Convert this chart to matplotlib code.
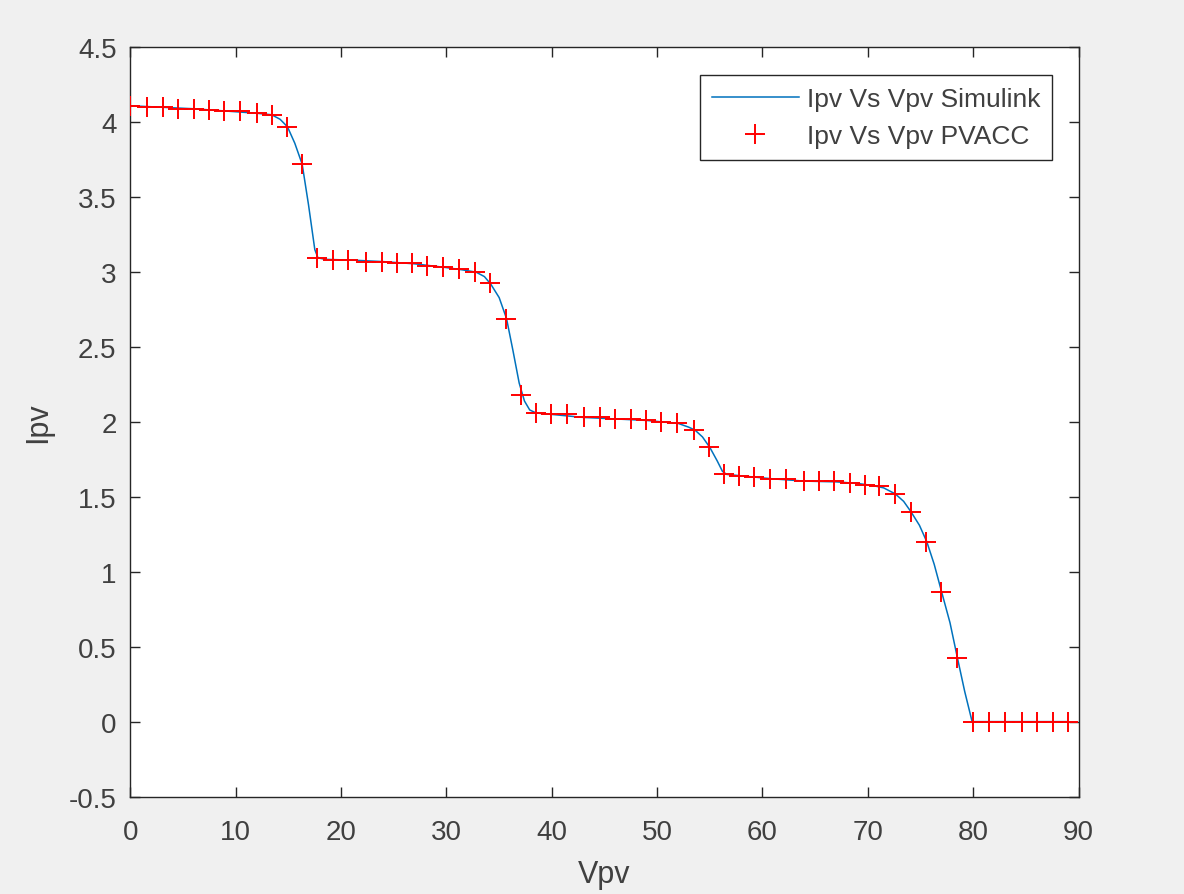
import matplotlib
matplotlib.use("Agg")
import matplotlib.pyplot as plt

# Simulink curve
sim_v = [0, 3, 6, 9, 12, 13.4, 14.2, 14.9, 15.6, 16.3, 16.9, 17.5, 17.8, 18.5, 21, 24, 27, 30,
         31.5, 32.8, 33.6, 34.2, 35.0, 35.7, 36.3, 36.9, 37.4, 37.9, 38.5, 40, 43, 46, 49, 50.5,
         52, 53, 53.6, 54.3, 55.0, 55.7, 56.2, 56.6, 58, 61, 64, 67, 69, 70.5, 71.5, 72.6, 73.4,
         74.1, 74.9, 75.6, 76.3, 77.0, 77.8, 78.5, 79.2, 79.9, 89]
sim_i = [4.11, 4.10, 4.09, 4.075, 4.06, 4.05, 4.02, 3.97, 3.86, 3.72, 3.45, 3.15, 3.095, 3.085,
         3.08, 3.07, 3.055, 3.03, 3.015, 3.00, 2.97, 2.92, 2.83, 2.69, 2.48, 2.26, 2.14, 2.08,
         2.06, 2.05, 2.03, 2.02, 2.01, 2.00, 1.99, 1.965, 1.945, 1.90, 1.83, 1.74, 1.67, 1.65,
         1.64, 1.62, 1.605, 1.60, 1.59, 1.575, 1.56, 1.52, 1.47, 1.40, 1.31, 1.20, 1.05, 0.867,
         0.66, 0.427, 0.20, 0.0, 0.0]

# PVACC points
pv_v = [0, 1.56, 3.05, 4.53, 5.99, 7.41, 8.9, 10.38, 11.99, 13.41, 14.9, 16.32, 17.74, 19.22,
        20.68, 22.32, 23.84, 25.26, 26.68, 28.17, 29.65, 31.17, 32.75, 34.17, 35.66, 37.08,
        38.53, 39.95, 41.44, 43.1, 44.53, 46.02, 47.47, 48.96, 50.38, 51.87, 53.54, 54.96,
        56.38, 57.8, 59.2, 60.7, 62.2, 63.9, 65.35, 66.8, 68.3, 69.7, 71.1, 72.56, 74.08,
        75.56, 76.98, 78.5, 79.98, 81.5, 82.98, 84.6, 86.1, 87.57, 89.05]
pv_i = [4.11, 4.10, 4.10, 4.09, 4.09, 4.08, 4.075, 4.075, 4.06, 4.05, 3.97, 3.72, 3.095, 3.08,
        3.08, 3.07, 3.07, 3.06, 3.06, 3.04, 3.035, 3.02, 3.00, 2.925, 2.69, 2.177, 2.06, 2.05,
        2.05, 2.03, 2.03, 2.02, 2.02, 2.01, 2.00, 1.99, 1.945, 1.83, 1.65, 1.64, 1.63, 1.62,
        1.617, 1.605, 1.605, 1.605, 1.595, 1.58, 1.57, 1.52, 1.40, 1.20, 0.867, 0.427, 0, 0,
        0, 0, 0, 0, 0]

x_ticks = [0, 10, 20, 30, 40, 50, 60, 70, 80, 90]
y_ticks = [-0.5, 0, 0.5, 1, 1.5, 2, 2.5, 3, 3.5, 4, 4.5]
y_tick_labels = ["-0.5", "0", "0.5", "1", "1.5", "2", "2.5", "3", "3.5", "4", "4.5"]

plt.rcParams['font.family'] = ['Liberation Sans', 'DejaVu Sans']

fig = plt.figure(figsize=(11.84, 8.95), dpi=100, facecolor='#f0f0f0')
ax = fig.add_axes([0.1102, 0.1089, 0.8007, 0.8371])
ax.set_facecolor('white')

ax.plot(sim_v, sim_i, color='#0072BD', lw=1.1, label='Ipv Vs Vpv Simulink', zorder=2)
ax.plot(pv_v, pv_i, linestyle='none', marker='+', markersize=14, markeredgewidth=1.4,
        color='#ff0000', label='Ipv Vs Vpv PVACC', zorder=3)

ax.set_xlim(0, 90)
ax.set_ylim(-0.5, 4.5)
ax.set_xticks(x_ticks)
ax.set_yticks(y_ticks)
ax.set_yticklabels(y_tick_labels)

tc = '#262626'
lc = '#404040'
ax.tick_params(direction='in', top=True, right=True, length=7, width=1, colors=tc,
               labelsize=20, labelcolor=lc)
ax.tick_params(axis='x', pad=16)
ax.tick_params(axis='y', pad=10)
for s in ax.spines.values():
    s.set_color(tc)
    s.set_linewidth(1.0)

ax.set_xlabel('Vpv', fontsize=22, color=lc, labelpad=10)
ax.set_ylabel('Ipv', fontsize=22, color=lc, labelpad=11)

leg = ax.legend(loc='upper right', bbox_to_anchor=(0.972, 0.963), borderaxespad=0,
                fancybox=False, framealpha=1, edgecolor=tc, fontsize=19,
                handlelength=3.3, handletextpad=0.3, borderpad=0.45, labelspacing=0.5)
leg.get_frame().set_linewidth(1.0)
for t in leg.get_texts():
    t.set_color(lc)

fig.savefig('out.png', dpi=100, facecolor=fig.get_facecolor())
